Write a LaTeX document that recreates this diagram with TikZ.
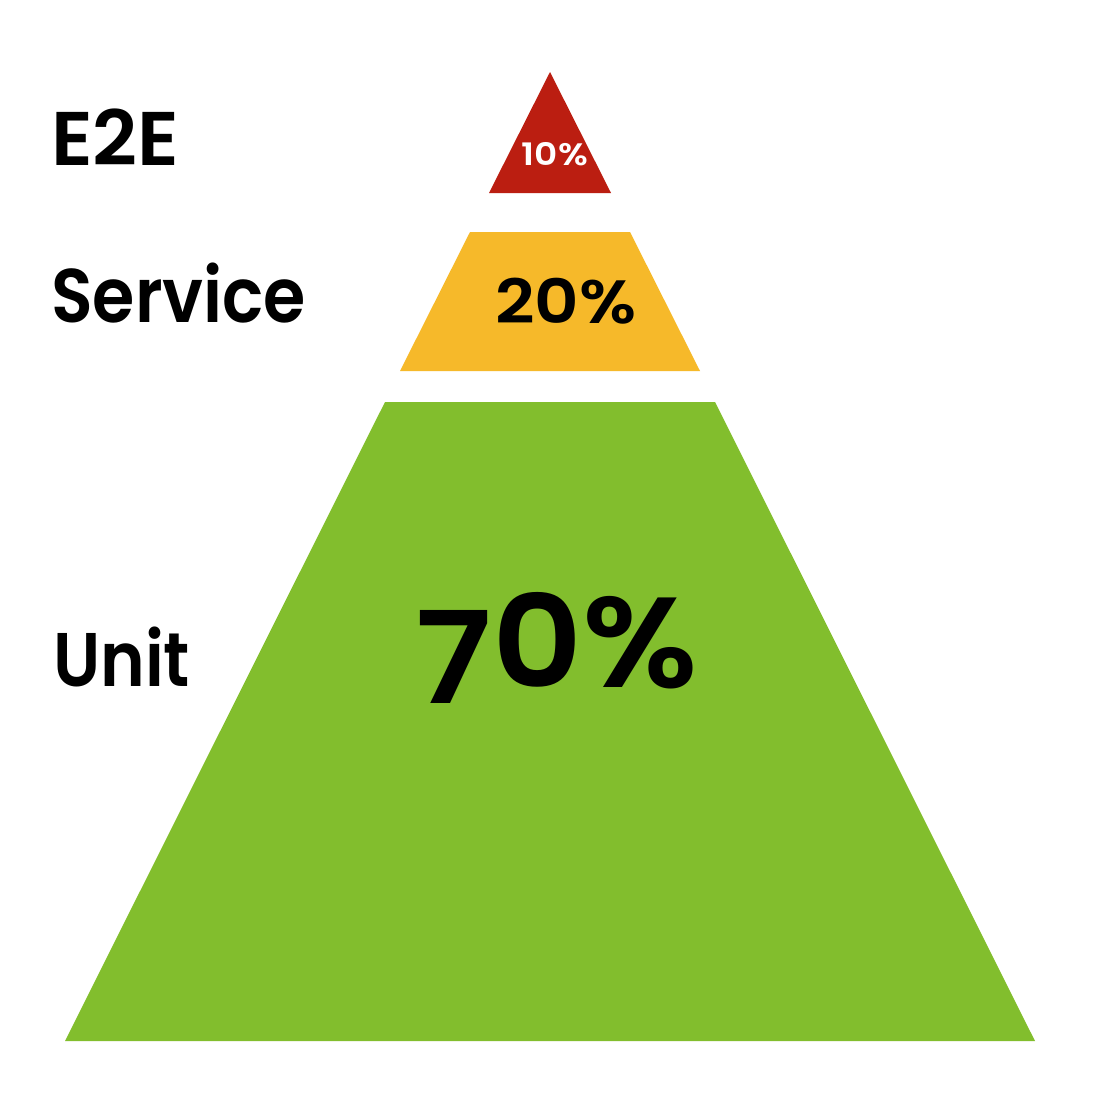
\documentclass[tikz,border=0pt]{standalone}
\usepackage{fontspec}
\usepackage{graphicx}
\IfFontExistsTF{Poppins SemiBold}
  {\setmainfont{Poppins}[BoldFont={Poppins SemiBold}]}
  {\setmainfont{Poppins}}
\definecolor{pyrred}{RGB}{187,30,17}
\definecolor{pyryellow}{RGB}{246,185,42}
\definecolor{pyrgreen}{RGB}{130,190,45}
\begin{document}
\begin{tikzpicture}[x=1pt,y=-1pt,
  lbl/.style={inner sep=0pt,anchor=base west,font=\fontsize{76}{76}\selectfont\bfseries},
  pct/.style={inner sep=0pt,anchor=base,font=\bfseries}]
\useasboundingbox (0,0) rectangle (1100,1100);
\fill[white] (0,0) rectangle (1100,1100);
% tiers
\fill[pyrred] (550,72) -- (611,193) -- (489,193) -- cycle;
\fill[pyryellow] (470,232) -- (630,232) -- (700,371) -- (400,371) -- cycle;
\fill[pyrgreen] (385,402) -- (715,402) -- (1035,1041) -- (65,1041) -- cycle;
% labels
\node[lbl] (e2e) at (51,165) {\scalebox{1.03}[1]{E2E}};
\node[lbl] (service) at (51,322) {\scalebox{0.90}[1]{Service}};
\node[lbl] (unit) at (53,686) {\scalebox{0.89}[1]{Unit}};
% percentages
\node[pct,text=white,font=\fontsize{31}{31}\selectfont\bfseries] (p10) at (555,165) {\scalebox{1.16}[1]{10\%}};
\node[pct,font=\fontsize{61}{61}\selectfont\bfseries] (p20) at (566,323) {\scalebox{1.13}[1]{20\%}};
\node[pct,font=\fontsize{128}{128}\selectfont\bfseries] (p70) at (557,687) {\scalebox{1.09}[1]{\raisebox{-16pt}{7}0\%}};
\end{tikzpicture}
\end{document}
